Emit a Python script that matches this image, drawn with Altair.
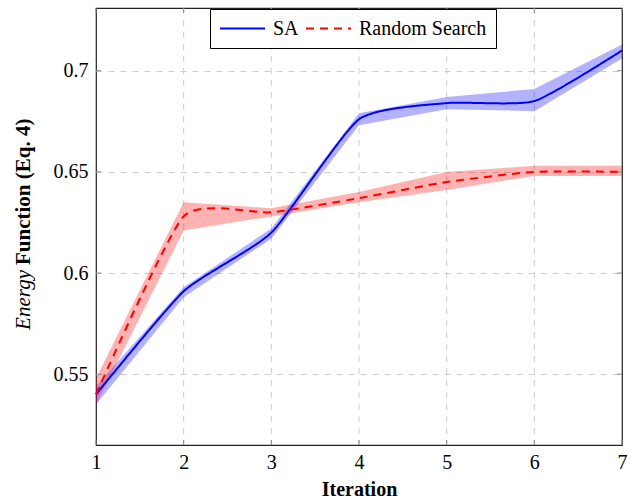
import altair as alt
import pandas as pd

iterations = [1, 2, 3, 4, 5, 6, 7]
sa_mean = [0.540, 0.591, 0.620, 0.676, 0.684, 0.685, 0.710]
sa_low = [0.535, 0.588, 0.617, 0.673, 0.681, 0.680, 0.706]
sa_high = [0.544, 0.593, 0.622, 0.679, 0.687, 0.691, 0.713]
rs_mean = [0.540, 0.628, 0.630, 0.637, 0.645, 0.650, 0.650]
rs_low = [0.535, 0.621, 0.628, 0.635, 0.641, 0.648, 0.648]
rs_high = [0.548, 0.635, 0.632, 0.640, 0.650, 0.653, 0.653]
series_names = ["SA", "Random Search"]
series_colors = ["#0000ff", "#ff0000"]
y_ticks = [0.55, 0.6, 0.65, 0.7]

rows = []
for i, it in enumerate(iterations):
    rows.append({"it": it, "series": "SA", "mean": sa_mean[i], "low": sa_low[i], "high": sa_high[i]})
    rows.append({"it": it, "series": "Random Search", "mean": rs_mean[i], "low": rs_low[i], "high": rs_high[i]})
df = pd.DataFrame(rows)

FONT = "Liberation Serif"
FS = 20
GRID = "#cccccc"
TICK = "#888888"

xs = alt.Scale(domain=[1, 7], nice=False)
ys = alt.Scale(domain=[0.515, 0.731], nice=False, zero=False)
col_scale = alt.Scale(domain=series_names, range=series_colors)

x_axis = alt.Axis(values=iterations, title="Iteration", format="d", grid=False,
                  tickSize=0, domain=False, labelFlush=False,
                  labelFont=FONT, labelFontSize=FS, labelColor="black", labelPadding=7,
                  titleFont=FONT, titleFontSize=FS, titleFontWeight="bold", titleColor="black",
                  titlePadding=7)
y_axis = alt.Axis(values=y_ticks, title=None, format="~g", grid=True, gridDash=[6, 6], gridColor=GRID,
                  tickSize=0, domain=False, labelFont=FONT, labelFontSize=FS, labelColor="black",
                  labelPadding=8, labelFlush=False)

base = alt.Chart(df)

band_layers = []
for name, c in zip(series_names, series_colors):
    band_layers.append(
        base.transform_filter(alt.datum.series == name).mark_area(opacity=0.3, color=c).encode(
            x=alt.X("it:Q", scale=xs, axis=x_axis),
            y=alt.Y("low:Q", scale=ys, axis=y_axis),
            y2="high:Q",
        )
    )

xgrid_df = pd.DataFrame({"v": iterations[1:-1]})
xgrid = alt.Chart(xgrid_df).mark_rule(strokeDash=[6, 6], color=GRID, strokeWidth=1).encode(
    x=alt.X("v:Q", scale=xs), y=alt.value(0), y2=alt.value(437)
)

ticks_df = pd.DataFrame({"v": iterations})
yt_df = pd.DataFrame({"v": y_ticks})
xt_bot = alt.Chart(ticks_df).mark_rule(color=TICK, strokeWidth=1).encode(
    x=alt.X("v:Q", scale=xs), y=alt.value(432), y2=alt.value(437))
xt_top = alt.Chart(ticks_df).mark_rule(color=TICK, strokeWidth=1).encode(
    x=alt.X("v:Q", scale=xs), y=alt.value(0), y2=alt.value(5))
yt_l = alt.Chart(yt_df).mark_rule(color=TICK, strokeWidth=1).encode(
    y=alt.Y("v:Q", scale=ys), x=alt.value(0), x2=alt.value(5))
yt_r = alt.Chart(yt_df).mark_rule(color=TICK, strokeWidth=1).encode(
    y=alt.Y("v:Q", scale=ys), x=alt.value(521), x2=alt.value(526))

leg = alt.Legend(orient="none", legendX=114, legendY=1, direction="horizontal",
                 symbolType="stroke", symbolSize=2025, symbolStrokeWidth=2, clipHeight=21,
                 labelFont=FONT, labelFontSize=FS, labelColor="black",
                 strokeColor="black", fillColor="white", padding=9,
                 columnPadding=6, labelOffset=7, cornerRadius=0)

lines = base.mark_line(strokeWidth=2, interpolate="cardinal", tension=0.45).encode(
    x=alt.X("it:Q", scale=xs),
    y=alt.Y("mean:Q", scale=ys),
    color=alt.Color("series:N", scale=col_scale, title=None, legend=leg),
    strokeDash=alt.StrokeDash("series:N", scale=alt.Scale(domain=series_names, range=[[1, 0], [8, 6]]),
                              title=None, legend=leg),
)

t1 = alt.Chart(pd.DataFrame({"t": ["Energy"]})).mark_text(
    angle=270, align="right", baseline="middle", font=FONT, fontSize=21, fontStyle="italic", color="black"
).encode(x=alt.value(-72), y=alt.value(262), text="t:N")

t2 = alt.Chart(pd.DataFrame({"t": ["Function (Eq. 4)"]})).mark_text(
    angle=270, align="left", baseline="middle", font=FONT, fontSize=21, fontWeight="bold", color="black"
).encode(x=alt.value(-72), y=alt.value(257), text="t:N")

chart = alt.layer(xgrid, *band_layers, lines, xt_bot, xt_top, yt_l, yt_r, t1, t2).properties(
    width=526, height=437,
    autosize=alt.AutoSizeParams(type="none"),
    padding={"left": 96, "top": 8, "right": 9, "bottom": 56},
    background="white",
).configure(font=FONT).configure_view(stroke="#222222", strokeWidth=1.2)

chart.save("out.html", embed_options={"renderer": "svg", "actions": False})
